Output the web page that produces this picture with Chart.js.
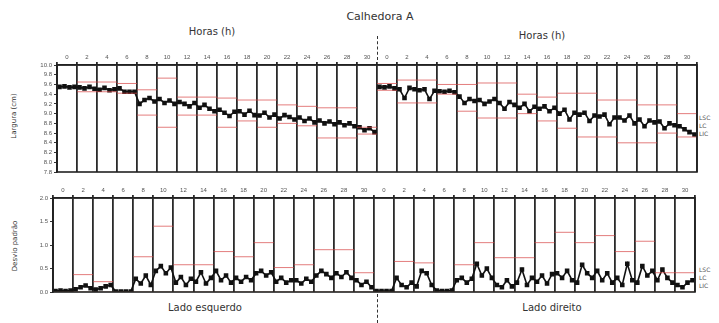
<!DOCTYPE html>
<html><head><meta charset="utf-8">
<script src="https://cdn.jsdelivr.net/npm/chart.js@4"></script>
<style>
body{margin:0;background:#fff;width:719px;height:323px;position:relative;overflow:hidden;font-family:"DejaVu Sans",sans-serif;color:#333}
.t{position:absolute;white-space:nowrap;transform:translate(-50%,-50%)}
.rot{transform:translate(-50%,-50%) rotate(-90deg)}
.cl{position:absolute;font-size:6px;line-height:8px;color:#555}
.dash{position:absolute;left:377px;border-left:1.5px dashed #333;width:0}
canvas{position:absolute;left:0}
</style></head><body>
<div class="t" style="left:380px;top:16px;font-size:11px">Calhedora A</div>
<div class="t" style="left:212px;top:31px;font-size:10px">Horas (h)</div>
<div class="t" style="left:542px;top:35px;font-size:10px">Horas (h)</div>
<div class="t rot" style="left:14px;top:116px;font-size:7px">Largura (cm)</div>
<div class="t rot" style="left:15px;top:246px;font-size:7px">Desvio padrão</div>
<div class="t" style="left:205px;top:307px;font-size:10px">Lado esquerdo</div>
<div class="t" style="left:552px;top:307px;font-size:10px">Lado direito</div>
<div class="cl" style="left:699px;top:114px">LSC<br>LC<br>LIC</div>
<div class="cl" style="left:699px;top:266px">LSC<br>LC<br>LIC</div>
<div class="dash" style="top:36px;height:24px"></div>
<div class="dash" style="top:294px;height:29px"></div>
<canvas id="topo" width="719" height="130" style="top:50px"></canvas>
<canvas id="baixo" width="719" height="120" style="top:185px"></canvas>
<script>
// rótulos do eixo de horas (cada lado)
const horas = [0,2,4,6,8,10,12,14,16,18,20,22,24,26,28,30];

// largura, 4 leituras por bloco de 2 h
const larguraEsq = [
  9.55,9.56,9.54,9.55, 9.54,9.52,9.55,9.51, 9.49,9.53,9.48,9.50, 9.52,9.45,9.45,9.45,
  9.20,9.28,9.32,9.25, 9.30,9.22,9.27,9.20, 9.24,9.20,9.15,9.22, 9.12,9.18,9.10,9.05,
  9.08,9.02,8.95,9.04, 9.05,8.98,9.06,8.97, 8.96,9.02,8.92,8.98, 8.90,8.97,8.93,8.88,
  8.92,8.85,8.90,8.82, 8.86,8.80,8.84,8.78, 8.82,8.76,8.80,8.74, 8.72,8.66,8.70,8.62
];
const larguraDir = [
  9.55,9.54,9.56,9.52, 9.50,9.32,9.53,9.50, 9.48,9.50,9.30,9.47, 9.46,9.45,9.47,9.44,
  9.35,9.22,9.30,9.26, 9.28,9.20,9.25,9.30, 9.22,9.10,9.24,9.18, 9.12,9.20,9.05,9.14,
  9.10,9.15,9.05,9.12, 9.00,9.08,8.88,9.02, 8.98,9.02,8.85,8.96, 8.94,8.98,8.78,8.92,
  8.92,8.86,8.96,8.80, 8.88,8.74,8.86,8.82, 8.84,8.70,8.80,8.76, 8.74,8.68,8.62,8.57
];
// limites por bloco (esq 0-15, dir 16-31)
const lscLargura = [null,9.65,9.65,9.62,9.49,9.73,9.34,9.34,9.32,9.28,9.28,9.18,9.15,9.12,9.12,8.72,
  9.62,9.69,9.69,9.60,9.60,9.63,9.63,9.40,9.34,9.42,9.42,9.28,9.28,9.18,9.18,9.00];
const licLargura = [null,9.45,9.45,9.42,8.97,8.72,8.97,8.97,8.72,8.85,8.72,8.80,8.75,8.50,8.50,8.58,
  9.48,9.22,9.22,9.40,9.05,8.91,8.91,9.00,8.85,8.70,8.52,8.52,8.40,8.40,8.60,8.52];

// desvio padrão
const desvioEsq = [
  0.02,0.03,0.02,0.03, 0.06,0.10,0.14,0.08, 0.05,0.08,0.12,0.15, 0.01,0.01,0.01,0.01,
  0.28,0.18,0.35,0.15, 0.45,0.55,0.40,0.52, 0.20,0.32,0.15,0.28, 0.22,0.42,0.18,0.30,
  0.45,0.25,0.35,0.20, 0.30,0.22,0.32,0.25, 0.40,0.45,0.35,0.42, 0.22,0.30,0.20,0.25,
  0.25,0.18,0.28,0.22, 0.35,0.45,0.38,0.30, 0.40,0.32,0.42,0.30, 0.25,0.15,0.22,0.10
];
const desvioDir = [
  0.02,0.02,0.02,0.02, 0.30,0.15,0.10,0.20, 0.12,0.45,0.40,0.15, 0.03,0.02,0.02,0.03,
  0.25,0.30,0.20,0.28, 0.60,0.35,0.50,0.30, 0.15,0.10,0.25,0.12, 0.20,0.48,0.15,0.30,
  0.22,0.35,0.18,0.38, 0.40,0.30,0.45,0.25, 0.20,0.58,0.40,0.30, 0.45,0.25,0.40,0.20,
  0.30,0.15,0.60,0.25, 0.20,0.55,0.35,0.45, 0.25,0.48,0.30,0.20, 0.15,0.10,0.20,0.25
];
const lscDesvio = [null,0.37,0.22,null,0.75,1.40,0.58,0.58,0.86,0.75,1.05,0.52,0.58,0.90,0.90,0.41,
  null,0.65,0.62,null,0.58,1.05,0.73,0.73,1.05,1.27,1.05,1.20,0.86,1.08,0.41,0.41];
const licDesvio = lscDesvio.map(()=>0);

function pontos(esq, dir){
  const out = [];
  esq.forEach((v,i)=>out.push({x: Math.floor(i/4)*2 + 0.25 + (i%4)*0.5, y: v}));
  out.push({x: 32, y: null});
  dir.forEach((v,i)=>out.push({x: 32 + Math.floor(i/4)*2 + 0.25 + (i%4)*0.5, y: v}));
  return out;
}
function degraus(lim){
  const out = [];
  lim.forEach((v,i)=>{ out.push({x:2*i,y:v},{x:2*i+2,y:v},{x:2*i+2,y:null}); });
  return out;
}

const moldura = {
  id:'moldura',
  afterDraw(c){
    const a = c.chartArea, g = c.ctx;
    g.save(); g.strokeStyle = '#222'; g.lineWidth = 1.6;
    g.strokeRect(a.left, a.top, a.right-a.left, a.bottom-a.top); g.restore();
  }
};

function painel(id, o){
  const red = 'rgba(215,70,70,0.7)';
  return new Chart(document.getElementById(id), {
    type:'line',
    data:{ datasets:[
      {data: degraus(o.lsc), borderColor: red, borderWidth:1, pointRadius:0, spanGaps:false},
      {data: degraus(o.lic), borderColor: o.licCor || red, borderWidth:1, pointRadius:0, spanGaps:false},
      {data: pontos(o.esq, o.dir), borderColor:'#111', borderWidth:1.6, pointStyle:'rect',
       pointRadius:2.1, pointBackgroundColor:'#111', pointBorderColor:'#111', spanGaps:false}
    ]},
    options:{
      responsive:false, animation:false,
      layout:{padding:o.pad},
      plugins:{legend:{display:false}, tooltip:{enabled:false}},
      scales:{
        x:{type:'linear', position:'top', min:0, max:64,
          afterBuildTicks(s){ s.ticks = Array.from({length:65},(_,i)=>({value:i})); },
          afterFit(s){ s.height = o.xh; },
          ticks:{autoSkip:false, maxRotation:0, padding:1, font:{size:6}, color:'#555',
            callback:(v)=> v%2 ? String(horas[((v-1)/2)%16]) : ''},
          grid:{color:(c)=> c.tick && c.tick.value%2===0 ? '#2a2a2a' : 'rgba(0,0,0,0)', lineWidth:1.8, tickLength:3},
          border:{color:'#222', width:1.6}},
        y:{min:o.min, max:o.max,
          afterFit(s){ s.width = o.yw; },
          ticks:{autoSkip:false, stepSize:o.step, font:{size:6}, color:'#555', padding:2, callback:(v)=>v.toFixed(1)},
          grid:{drawOnChartArea:false, tickLength:3, color:'#333'},
          border:{color:'#222', width:1.6}}
      }
    },
    plugins:[moldura]
  });
}

painel('topo', {esq:larguraEsq, dir:larguraDir, lsc:lscLargura, lic:licLargura,
  min:7.8, max:10, step:0.2, yw:57, xh:15, pad:{left:0,top:0,right:22,bottom:8}});
painel('baixo', {esq:desvioEsq, dir:desvioDir, lsc:lscDesvio, lic:licDesvio, licCor:'rgba(240,150,110,0.6)',
  min:0, max:2, step:0.5, yw:53, xh:13, pad:{left:0,top:0,right:24,bottom:13}});
</script>
</body></html>
